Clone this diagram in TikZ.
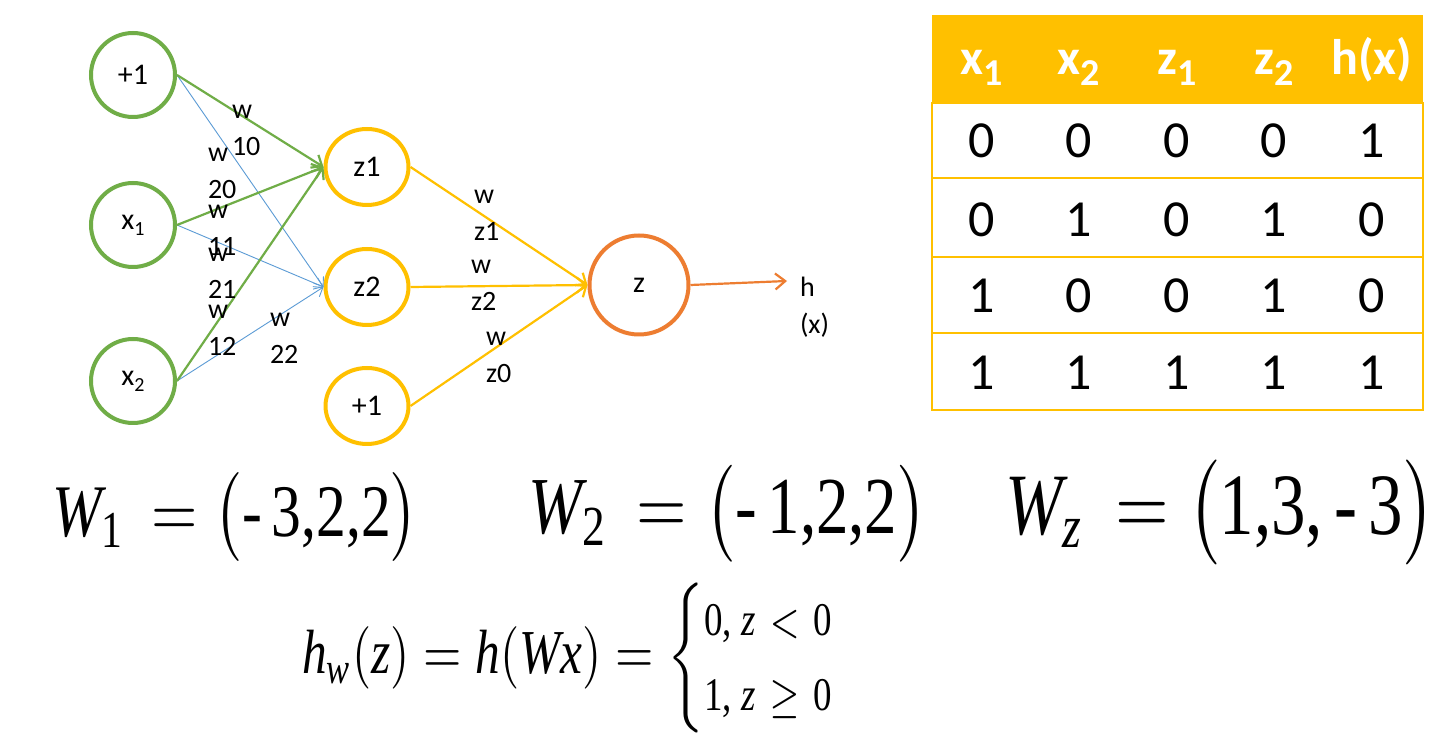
\documentclass[tikz,border=0pt]{standalone}
\usepackage{amsmath}
\usepackage[no-math]{fontspec}
\setmainfont{Carlito}
\newfontfamily\timesfont{Liberation Serif}
\usepackage{graphicx}
\usetikzlibrary{shapes.geometric}
\usetikzlibrary{arrows.meta}

\newcommand{\nsub}[1]{\raisebox{-6pt}{\fontsize{20}{20}\selectfont #1}}
\newcommand{\hsub}[1]{\raisebox{-11pt}{\fontsize{38}{38}\selectfont #1}}
\newcommand{\tv}[1]{\mbox{\timesfont\itshape #1}}
\newcommand{\tn}[1]{\mbox{\timesfont #1}}
\newcommand{\tsub}[1]{\mbox{\timesfont\fontsize{7}{7}\selectfont #1}}
\newcommand{\tsm}[1]{\mbox{\timesfont\fontsize{7.5}{9}\selectfont #1}}

\begin{document}
\begin{tikzpicture}[x=1pt,y=1pt,
  inlayer/.style={circle,draw=greenColor,line width=4pt,inner sep=0pt,minimum size=84pt,font=\fontsize{30}{34}\selectfont},
  hidlayer/.style={ellipse,draw=goldColor,line width=4pt,inner sep=0pt,minimum width=83pt,minimum height=76pt,font=\fontsize{30}{34}\selectfont},
  outlayer/.style={circle,draw=orangeColor,line width=4pt,inner sep=0pt,minimum size=99pt,font=\fontsize{30}{34}\selectfont},
  greenarrow/.style={draw=greenColor,line width=2.2pt,-{Straight Barb[length=9pt,width=15pt]}},
  bluearrow/.style={draw=blueColor,line width=0.9pt,-{Straight Barb[length=8pt,width=12pt]}},
  goldarrow/.style={draw=goldColor,line width=2.2pt,-{Straight Barb[length=9pt,width=15pt]}},
  orangearrow/.style={draw=orangeColor,line width=2.2pt,-{Straight Barb[length=10pt,width=16pt]}},
  weight/.style={anchor=north west,inner sep=0pt,outer sep=0pt,align=left,font=\fontsize{28}{37}\selectfont},
  headtxt/.style={anchor=base,inner sep=0pt,outer sep=0pt,text=white,font=\fontsize{50}{60}\selectfont\bfseries},
  celltxt/.style={anchor=base,inner sep=0pt,outer sep=0pt,font=\fontsize{52}{60}\selectfont},
  eqn/.style={anchor=south west,inner sep=0pt,outer sep=0pt}]
\definecolor{fillColor}{RGB}{255,255,255}
\definecolor{greenColor}{RGB}{112,173,71}
\definecolor{goldColor}{RGB}{255,192,0}
\definecolor{orangeColor}{RGB}{237,125,49}
\definecolor{blueColor}{RGB}{91,155,213}
\path[use as bounding box,fill=fillColor] (0,0) rectangle (1442,736);

\node[inlayer] (b1) at (133,661) {+1};
\node[inlayer] (x1) at (133,511) {x\nsub{1}};
\node[inlayer] (x2) at (133,355) {x\nsub{2}};
\node[hidlayer] (z1) at (367,569) {z1};
\node[hidlayer] (z2) at (367,449) {z2};
\node[hidlayer] (b2) at (367,330) {+1};
\node[outlayer] (z) at (639,451) {z};
\coordinate (hend) at (787,455);

\draw[bluearrow] (b1.east) -- (z2.west);
\draw[bluearrow] (x1.east) -- (z2.west);
\draw[bluearrow] (x2.east) -- (z2.west);
\draw[greenarrow] (b1.east) -- (z1.west);
\draw[greenarrow] (x1.east) -- (z1.west);
\draw[greenarrow] (x2.east) -- (z1.west);
\draw[goldarrow] (z1.east) -- (z.west);
\draw[goldarrow] (z2.east) -- (z.west);
\draw[goldarrow] (b2.east) -- (z.west);
\draw[orangearrow] (z.east) -- (hend);

\node[weight] (w10) at (232,631) {w\\10};
\node[weight] (w20) at (208,588) {w\\20};
\node[weight] (w11) at (208,531) {w\\11};
\node[weight] (w21) at (208,488) {w\\21};
\node[weight] (w12) at (208,431) {w\\12};
\node[weight] (w22) at (270,423) {w\\22};
\node[weight] (wz1) at (474,546) {w\\z1};
\node[weight] (wz2) at (471,476) {w\\z2};
\node[weight] (wz0) at (486,404) {w\\z0};
\node[weight] (hx) at (800,459) {h\\(x)};

\path[fill=goldColor] (932,633) rectangle (1423,721);
\path[draw=goldColor,line width=2pt] (932,633) rectangle (1423,326);
\path[draw=goldColor,line width=2pt] (932,558) -- (1423,558);
\path[draw=goldColor,line width=2pt] (932,479) -- (1423,479);
\path[draw=goldColor,line width=2pt] (932,403) -- (1423,403);

\node[headtxt] (hd1) at (982,661) {x\hsub{1}};
\node[headtxt] (hd2) at (1079,661) {x\hsub{2}};
\node[headtxt] (hd3) at (1177,661) {z\hsub{1}};
\node[headtxt] (hd4) at (1274,661) {z\hsub{2}};
\node[headtxt] (hd5) at (1372,661) {h(x)};

\node[celltxt] (c11) at (982,578) {0};
\node[celltxt] (c12) at (1079,578) {0};
\node[celltxt] (c13) at (1177,578) {0};
\node[celltxt] (c14) at (1274,578) {0};
\node[celltxt] (c15) at (1372,578) {1};
\node[celltxt] (c21) at (982,499) {0};
\node[celltxt] (c22) at (1079,499) {1};
\node[celltxt] (c23) at (1177,499) {0};
\node[celltxt] (c24) at (1274,499) {1};
\node[celltxt] (c25) at (1372,499) {0};
\node[celltxt] (c31) at (982,423) {1};
\node[celltxt] (c32) at (1079,423) {0};
\node[celltxt] (c33) at (1177,423) {0};
\node[celltxt] (c34) at (1274,423) {1};
\node[celltxt] (c35) at (1372,423) {0};
\node[celltxt] (c41) at (982,346) {1};
\node[celltxt] (c42) at (1079,346) {1};
\node[celltxt] (c43) at (1177,346) {1};
\node[celltxt] (c44) at (1274,346) {1};
\node[celltxt] (c45) at (1372,346) {1};

\node[eqn] (eqa) at (52,174) {\resizebox*{366pt}{89pt}{$\tv{W}_{\tsub{1}}\,=\bigl(\tn{-\,3,2,2}\bigr)$}};
\node[eqn] (eqb) at (528,174) {\resizebox*{399pt}{97pt}{$\tv{W}_{\tsub{2}}\,=\bigl(\tn{-\,1,2,2}\bigr)$}};
\node[eqn] (eqc) at (1005,171) {\resizebox*{430pt}{105pt}{$\tv{W}_{\tsub{\itshape z}}\,=\bigl(\tn{1,3,\,-\,3}\bigr)$}};
\node[eqn] (eqh) at (302,3) {\resizebox*{536pt}{150pt}{$\tv{h}_{\tsub{\itshape w}}(\tv{z})=\tv{h}(\tv{Wx})=\left\{\begin{array}{@{}l@{}}\tsm{0, \itshape z}\mathrel{\scriptstyle<}\tsm{0}\\ \tsm{1, \itshape z}\mathrel{\scriptstyle\geq}\tsm{0}\end{array}\right.$}};
\end{tikzpicture}
\end{document}
